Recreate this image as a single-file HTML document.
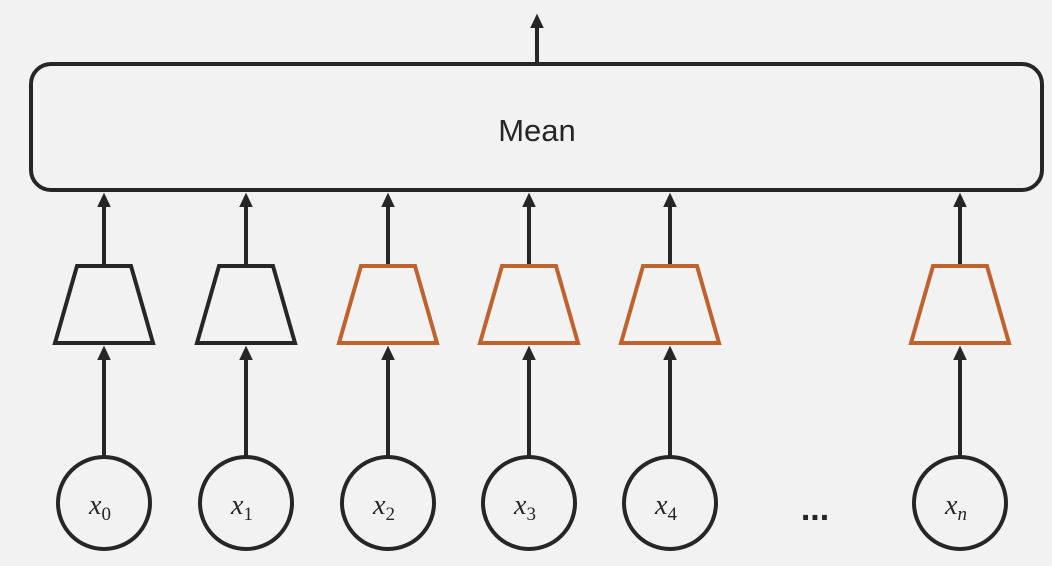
<!DOCTYPE html>
<html><head><style>html,body{margin:0;background:#f2f2f2;overflow:hidden}svg{display:block}</style></head><body>
<svg width="1052" height="566" viewBox="0 0 1052 566" xmlns="http://www.w3.org/2000/svg">
<defs><marker id="a" markerWidth="4" markerHeight="4" refX="2" refY="2" orient="auto" markerUnits="strokeWidth"><path d="M0,0.3 L3.6,2 L0,3.7 z" fill="#262626"/></marker></defs>
<rect width="1052" height="566" fill="#f2f2f2"/>
<rect x="31" y="64" width="1011" height="126" rx="20" fill="none" stroke="#262626" stroke-width="4"/>
<text x="537" y="141" font-family="Liberation Sans, sans-serif" font-size="31" text-anchor="middle" fill="#262626">Mean</text>
<line x1="537" y1="62" x2="537" y2="20" stroke="#262626" stroke-width="4" marker-end="url(#a)"/>

<g fill="none" stroke-width="4">
<polygon points="77,266 131,266 153,343 55,343" stroke="#262626"/>
<polygon points="219,266 273,266 295,343 197,343" stroke="#262626"/>
<polygon points="361,266 415,266 437,343 339,343" stroke="#c0622d"/>
<polygon points="502,266 556,266 578,343 480,343" stroke="#c0622d"/>
<polygon points="643,266 697,266 719,343 621,343" stroke="#c0622d"/>
<polygon points="933,266 987,266 1009,343 911,343" stroke="#c0622d"/>
</g>
<g stroke="#262626" stroke-width="4" marker-end="url(#a)">
<line x1="104" y1="264" x2="104" y2="199"/>
<line x1="246" y1="264" x2="246" y2="199"/>
<line x1="388" y1="264" x2="388" y2="199"/>
<line x1="529" y1="264" x2="529" y2="199"/>
<line x1="670" y1="264" x2="670" y2="199"/>
<line x1="960" y1="264" x2="960" y2="199"/>
<line x1="104" y1="457" x2="104" y2="352"/>
<line x1="246" y1="457" x2="246" y2="352"/>
<line x1="388" y1="457" x2="388" y2="352"/>
<line x1="529" y1="457" x2="529" y2="352"/>
<line x1="670" y1="457" x2="670" y2="352"/>
<line x1="960" y1="457" x2="960" y2="352"/>
</g>
<g fill="none" stroke="#262626" stroke-width="4">
<circle cx="104" cy="503" r="46"/>
<circle cx="246" cy="503" r="46"/>
<circle cx="388" cy="503" r="46"/>
<circle cx="529" cy="503" r="46"/>
<circle cx="670" cy="503" r="46"/>
<circle cx="960" cy="503" r="46"/>
</g>
<g font-family="Liberation Serif, serif" font-style="italic" font-size="28" fill="#262626" text-anchor="middle">
<text x="100" y="514">x<tspan font-size="19" font-style="normal" dy="6">0</tspan></text>
<text x="242" y="514">x<tspan font-size="19" font-style="normal" dy="6">1</tspan></text>
<text x="384" y="514">x<tspan font-size="19" font-style="normal" dy="6">2</tspan></text>
<text x="525" y="514">x<tspan font-size="19" font-style="normal" dy="6">3</tspan></text>
<text x="666" y="514">x<tspan font-size="19" font-style="normal" dy="6">4</tspan></text>
<text x="956" y="514">x<tspan font-size="19" dy="6">n</tspan></text>
</g>
<text x="815" y="520" font-family="Liberation Sans, sans-serif" font-size="34" font-weight="bold" fill="#262626" text-anchor="middle">...</text>
</svg>
</body></html>
